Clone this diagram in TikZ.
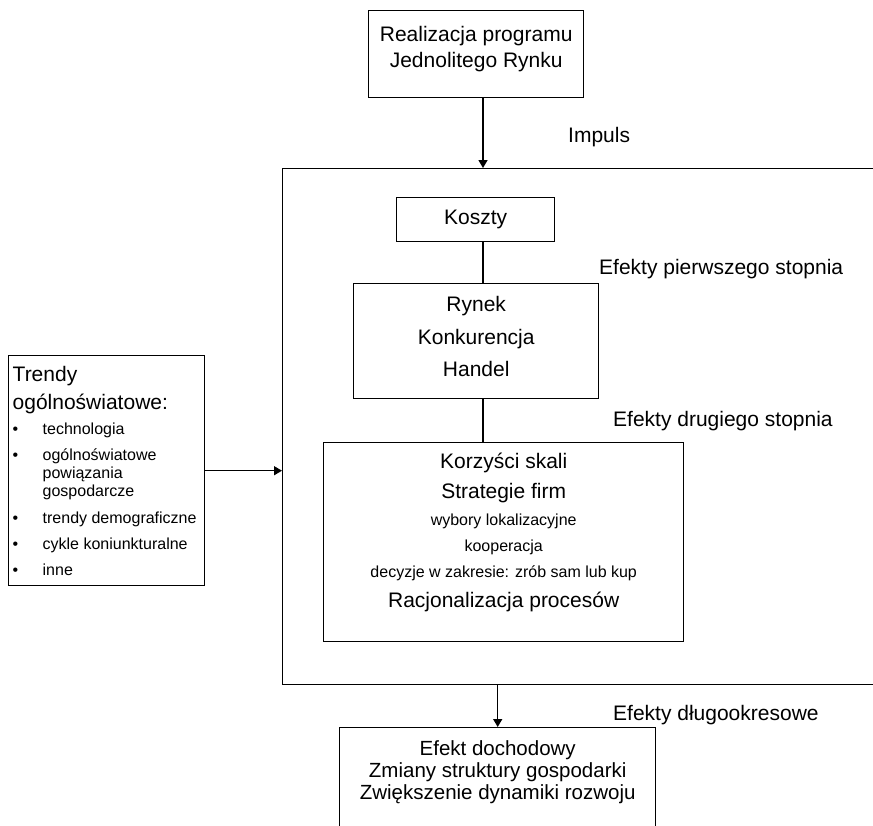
\documentclass[tikz,border=0pt]{standalone}
\usepackage{fontspec}
\setmainfont{Liberation Sans}
\usetikzlibrary{arrows.meta, positioning}
\newcommand{\bigtxt}{\fontsize{21}{26}\selectfont}
\newcommand{\smalltxt}{\fontsize{16}{18}\selectfont}
\newcommand{\pkt}{\makebox[30pt][l]{\textbullet}}
\newcommand{\wcie}{\hspace*{30pt}}

\begin{document}
\begin{tikzpicture}[
  x=1pt, y=-1pt,
  box/.style={rectangle, draw, line width=1.4pt, inner sep=0pt,
              align=flush center, font=\bigtxt, anchor=north west},
  tag/.style={anchor=base west, inner sep=0pt, font=\bigtxt},
  arrow/.style={-{Triangle[length=8pt, width=9pt]}, line width=1.4pt},
  link/.style={line width=1.4pt}
]
  \clip (0,0) rectangle (873,825);
  \coordinate (spine) at (483,0);

  \node[box, text width=215pt, text height=30.5pt, text depth=56.5pt]
    (prog) at (368,10) {Realizacja programu\\Jednolitego Rynku};
  \node[box, minimum width=620pt, minimum height=516pt] (impact) at (282,168) {};
  \node[box, text width=158pt, text height=27pt, text depth=17pt]
    (koszty) at (396,197) {Koszty};
  \node[box, text width=245pt, text height=27.7pt, text depth=87.3pt,
        font=\fontsize{21}{32.7}\selectfont]
    (rynek) at (353,283) {Rynek\\Konkurencja\\Handel};
  \node[box, text width=360pt, text height=26pt, text depth=173pt]
    (korzysci) at (323,442) {Korzyści skali\\[4pt]
      Strategie firm\\[1pt]
      {\smalltxt wybory lokalizacyjne}\\
      {\smalltxt kooperacja}\\
      {\smalltxt decyzje w zakresie: zrób sam lub kup}\\[4pt]
      Racjonalizacja procesów};
  \node[box, align=flush left, inner xsep=4pt, text width=188pt, text height=26pt,
        text depth=204pt, font=\smalltxt]
    (trendy) at (8,355) {{\bigtxt Trendy}\\[7pt]
      {\bigtxt ogólnoświatowe:}\\[7pt]
      \pkt technologia\\[8pt]
      \pkt ogólnoświatowe\\
      \wcie powiązania\\
      \wcie gospodarcze\\[9pt]
      \pkt trendy demograficzne\\[8pt]
      \pkt cykle koniunkturalne\\[8pt]
      \pkt inne};
  \node[box, text width=316pt, text height=28pt, text depth=110pt,
        font=\fontsize{20.5}{22}\selectfont]
    (wyniki) at (339,727) {Efekt dochodowy\\
      Zmiany struktury gospodarki\\
      Zwiększenie dynamiki rozwoju};

  \node[tag] (impuls) at (568,142.5) {Impuls};
  \node[tag] (stopien1) at (599,274) {Efekty pierwszego stopnia};
  \node[tag] (stopien2) at (613,426) {Efekty drugiego stopnia};
  \node[tag] (dlugie) at (613,720) {Efekty długookresowe};

  \draw[arrow] (prog.south -| spine) -- (impact.north -| spine);
  \draw[link] (koszty.south -| spine) -- (rynek.north -| spine);
  \draw[link] (rynek.south -| spine) -- (korzysci.north -| spine);
  \draw[arrow] (trendy.east) -- (trendy.east -| impact.west);
  \draw[arrow] (impact.south -| wyniki.north) -- (wyniki.north);
\end{tikzpicture}
\end{document}
